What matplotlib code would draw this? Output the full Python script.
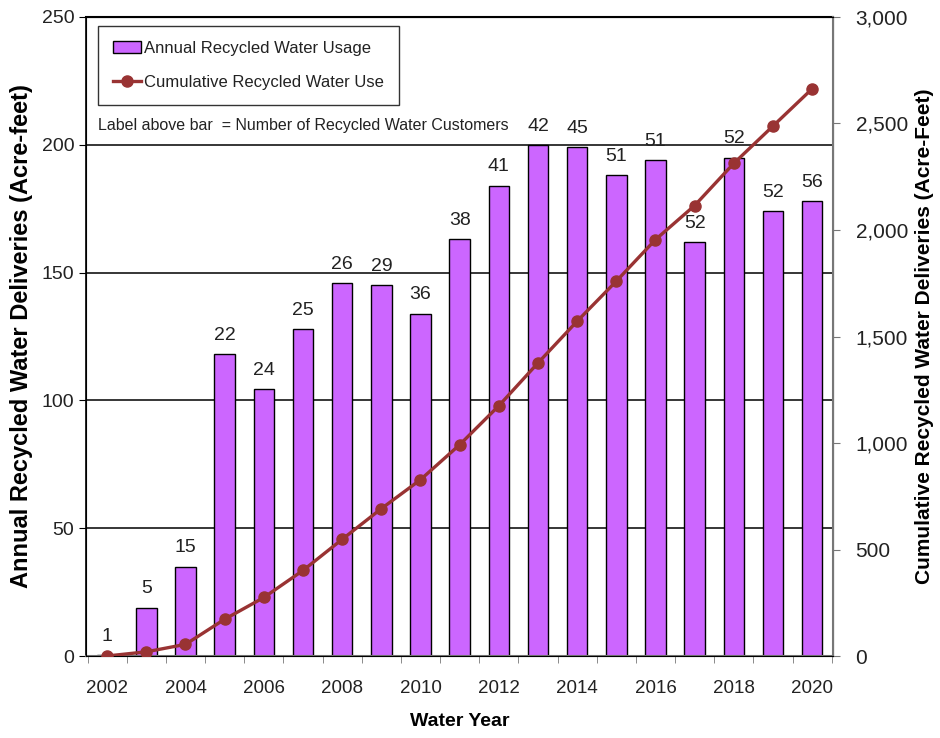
import matplotlib
matplotlib.use("Agg")
import matplotlib.pyplot as plt
from matplotlib.ticker import FuncFormatter, FixedLocator

# data
years = list(range(2002, 2021))
annual = [0.5, 19, 35, 118, 104.5, 128, 146, 145, 134, 163,
          184, 200, 199, 188, 194, 162, 195, 174, 178]
cumulative = [0.5, 20, 55, 173, 275, 402, 548, 692, 828, 992,
              1175, 1376, 1572, 1760, 1955, 2115, 2313, 2488, 2663]
customers = [1, 5, 15, 22, 24, 25, 26, 29, 36, 38,
             41, 42, 45, 51, 51, 52, 52, 52, 56]

plt.rcParams["font.family"] = ["Liberation Sans", "DejaVu Sans"]

bar_color = "#CC66FF"
line_color = "#993333"
text_color = "#222222"

fig = plt.figure(figsize=(9.4, 7.38), dpi=100)
ax = fig.add_axes([0.0915, 0.111, 0.795, 0.866])

ax.bar(years, annual, width=0.52, color=bar_color, edgecolor="black",
       linewidth=1.0, zorder=2, label="Annual Recycled Water Usage")

for y in (50, 100, 150, 200):
    ax.axhline(y, color="black", linewidth=1.1, zorder=1)

for x, v, n in zip(years, annual, customers):
    ax.text(x, v + 4, str(n), ha="center", va="bottom", fontsize=14,
            color=text_color, zorder=5)

ax.set_xlim(2001.46, 2020.54)
ax.set_ylim(0, 250)
ax.set_yticks([0, 50, 100, 150, 200, 250])
ax.tick_params(axis="y", labelsize=14, direction="out", length=5,
               labelcolor=text_color)
ax.set_xticks(years[::2])
ax.xaxis.set_minor_locator(FixedLocator([y + 0.5 for y in range(2001, 2021)]))
ax.tick_params(axis="x", which="major", length=0, labelsize=13.5, pad=17,
               labelcolor=text_color)
ax.tick_params(axis="x", which="minor", length=5, direction="out",
               color="#777777")

ax.spines["bottom"].set_color("#777777")
ax.spines["top"].set_linewidth(1.5)
ax.spines["left"].set_linewidth(1.2)
ax.spines["bottom"].set_linewidth(1.5)

ax.set_xlabel("Water Year", fontsize=14, fontweight="bold", labelpad=12)
ax.set_ylabel("Annual Recycled Water Deliveries (Acre-feet)", fontsize=17,
              fontweight="bold", labelpad=6)

ax2 = ax.twinx()
ax2.plot(years, cumulative, color=line_color, linewidth=2.4, marker="o",
         markersize=8, zorder=4, label="Cumulative Recycled Water Use")
ax2.set_ylim(0, 3000)
ax2.set_yticks(range(0, 3001, 500))
ax2.yaxis.set_major_formatter(FuncFormatter(lambda v, p: f"{int(v):,}"))
ax2.tick_params(axis="y", labelsize=15, direction="out", length=5,
                color="#777777", pad=11, labelcolor=text_color)
ax2.spines["right"].set_color("#777777")
ax2.spines["right"].set_linewidth(1.5)
ax2.set_ylabel("Cumulative Recycled Water Deliveries (Acre-Feet)",
               fontsize=15, fontweight="bold", labelpad=5)

h1, l1 = ax.get_legend_handles_labels()
h2, l2 = ax2.get_legend_handles_labels()
leg = ax2.legend(h1 + h2, l1 + l2, loc="upper left",
                 bbox_to_anchor=(0.016, 0.986), borderaxespad=0,
                 fontsize=12, frameon=True, fancybox=False,
                 edgecolor="black", handlelength=1.7, handletextpad=0.15,
                 labelspacing=1.15, borderpad=0.9)
leg.get_frame().set_linewidth(1.0)
for t in leg.get_texts():
    t.set_color(text_color)

ax.text(0.016, 0.83, "Label above bar  = Number of Recycled Water Customers",
        transform=ax.transAxes, fontsize=11.5, color=text_color,
        ha="left", va="center", zorder=6)

fig.savefig("out.png", dpi=100)
